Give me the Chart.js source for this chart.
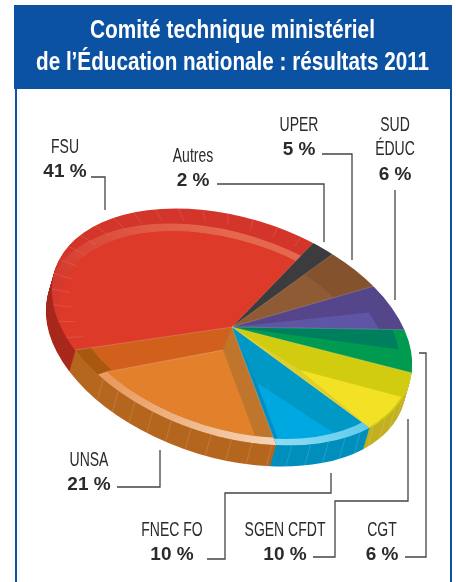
<!DOCTYPE html>
<html><head><meta charset="utf-8">
<style>html,body{margin:0;padding:0;background:#fff}canvas{display:block}</style>
<script src="https://cdn.jsdelivr.net/npm/chart.js@4"></script>
</head><body><canvas id="c" width="456" height="582"></canvas>
<script>
const categories = ['FSU','Autres','UPER','SUD ÉDUC','CGT','SGEN CFDT','FNEC FO','UNSA'];
const values = [41,2,5,6,6,10,10,21];
const faceColors = ['#d3352a','#3c3c3e','#85522e','#55458a','#009a50','#d2cc10','#0098c4','#bf762c'];
const wallColors = ['#a8281c','#333335','#6f4325','#463a75','#00803f','#c2b020','#008fbd','#b5661f'];
const titleLines = ['Comité technique ministériel',"de l’Éducation nationale : résultats 2011"];
const titleWidths = [285,393];

// Oblique view of the pie: unit circle -> screen
const apex = [232,327], axisA = [-157,23], axisB = [-88.4,-116.3], depth = [-6,21];
const mapUV = (u,v,o=[0,0]) => [apex[0]+u*axisA[0]+v*axisB[0]+o[0], apex[1]+u*axisA[1]+v*axisB[1]+o[1]];
const rad = d => d*Math.PI/180;

const callouts = [
  {lines:['FSU'],pct:'41 %',x:65,y:147,path:[[91,177],[105,177],[105,210]]},
  {lines:['Autres'],pct:'2 %',x:193,y:156,path:[[217,184],[324,184],[324,242]]},
  {lines:['UPER'],pct:'5 %',x:299,y:125,path:[[322,154],[352,154],[352,260]]},
  {lines:['SUD','ÉDUC'],pct:'6 %',x:395,y:125,path:[[395,190],[395,300]]},
  {lines:['UNSA'],pct:'21 %',x:89,y:460,path:[[117,487],[160,487],[160,450]]},
  {lines:['FNEC FO'],pct:'10 %',x:172,y:530,path:[[207,559],[225,559],[225,493],[331,493],[331,473]]},
  {lines:['SGEN CFDT'],pct:'10 %',x:285,y:530,path:[[313,557],[335,557],[335,501],[408,501],[408,419]]},
  {lines:['CGT'],pct:'6 %',x:382,y:530,path:[[405,557],[426,557],[426,353],[419,353]]}
];

function toPie(ctx,arc){
  const R=arc.outerRadius;
  ctx.translate(apex[0],apex[1]);
  ctx.transform(axisA[0]/R,axisA[1]/R,axisB[0]/R,axisB[1]/R,0,0);
  ctx.translate(-arc.x,-arc.y);
}
function toUnit(ctx){
  ctx.translate(apex[0],apex[1]);
  ctx.transform(axisA[0],axisA[1],axisB[0],axisB[1],0,0);
}
function layer(ctx,arc,o){
  const s=arc.startAngle+rad(o.a0||0), e=arc.endAngle+rad(o.a1||0);
  const sh=o.shift||[0,0], c=o.c||[0,0], r=o.r||1;
  ctx.save();
  toUnit(ctx);
  ctx.beginPath();ctx.moveTo(0,0);ctx.arc(0,0,1,arc.startAngle,arc.endAngle);ctx.closePath();ctx.clip();
  ctx.beginPath();ctx.moveTo(sh[0],sh[1]);ctx.arc(sh[0],sh[1],4,s,e);ctx.closePath();ctx.clip();
  let fill=o.fill;
  if(o.grad){
    fill=ctx.createLinearGradient(o.grad[0],o.grad[1],o.grad[2],o.grad[3]);
    fill.addColorStop(0,o.grad[4]);fill.addColorStop(1,o.grad[5]);
  }
  ctx.fillStyle=fill;
  ctx.beginPath();
  ctx.arc(c[0],c[1],r,0,Math.PI*2);
  if(o.r0){ctx.moveTo(c[0]+o.r0,c[1]);ctx.arc(c[0],c[1],o.r0,0,Math.PI*2);}
  ctx.fill('evenodd');
  ctx.restore();
}
function wire(ctx,p,q,alpha){
  ctx.strokeStyle='rgba(255,255,255,'+alpha+')';ctx.lineWidth=.7;
  ctx.beginPath();ctx.moveTo(p[0],p[1]);ctx.lineTo(q[0],q[1]);ctx.stroke();
}
function squeezed(ctx,text,x,y,sx){
  ctx.save();ctx.translate(x,y);ctx.scale(sx,1);ctx.fillText(text,0,0);ctx.restore();
}

const pie3d = {
  id:'pie3d',
  beforeDraw(chart){
    const ctx=chart.ctx;
    ctx.save();
    ctx.fillStyle='#fff';ctx.fillRect(0,0,456,582);
    ctx.fillStyle='#0c52a2';
    ctx.fillRect(14,5,438,84);
    ctx.fillRect(15,89,2,493);
    ctx.fillRect(450,89,2,493);
    ctx.fillStyle='#fff';ctx.textAlign='center';ctx.textBaseline='middle';
    ctx.font='bold 25px "Liberation Sans"';
    titleLines.forEach((t,k)=>squeezed(ctx,t,232.5,31+k*32,titleWidths[k]/ctx.measureText(t).width));
    ctx.restore();
  },
  beforeDatasetsDraw(chart){
    const ctx=chart.ctx, arcs=chart.getDatasetMeta(0).data;
    ctx.save();
    toPie(ctx,arcs[0]);
    // side wall: the slices repeated along the depth vector, through the arc elements
    const R=arcs[0].outerRadius, inv=(axisA[0]*axisB[1]-axisA[1]*axisB[0]);
    const du=(depth[0]*axisB[1]-depth[1]*axisB[0])/inv*R, dv=(axisA[0]*depth[1]-axisA[1]*depth[0])/inv*R;
    for(let t=22;t>=1;t--){
      ctx.save();
      ctx.translate(du*t/22,dv*t/22);
      arcs.forEach((arc,i)=>{
        const keep=arc.options;
        arc.options=Object.assign({},keep,{backgroundColor:wallColors[i],borderWidth:0});
        arc.draw(ctx);
        arc.options=keep;
      });
      ctx.restore();
    }
    ctx.restore();
    // wall stripes
    ctx.save();
    for(let d=150;d<=350;d+=6.5){
      const u=Math.cos(rad(d)),v=Math.sin(rad(d));
      const p=mapUV(u,v), q=mapUV(u,v,depth);
      if(q[1]>p[1]) wire(ctx,p,q,.2);
    }
    ctx.restore();
    ctx.save();
    toPie(ctx,arcs[0]);
  },
  afterDatasetsDraw(chart){
    const ctx=chart.ctx, arcs=chart.getDatasetMeta(0).data;
    ctx.restore();
    const [fsu,autres,uper,sud,cgt,sgen,fnec,unsa]=arcs;
    // FSU
    layer(ctx,fsu,{c:[.1,-.1],r:.99,r0:.925,grad:[.75,.5,-.35,.85,'rgba(232,110,84,.08)','#e5674d']});
    layer(ctx,fsu,{c:[.1,-.1],r:.925,fill:'#dd3a2a'});
    // UPER, SUD
    layer(ctx,uper,{r:.72,fill:'#8f5b34'});
    layer(ctx,sud,{a0:11.8,r:.85,fill:'#5e56a4'});
    // CGT
    layer(ctx,cgt,{a1:-11,r:.93,fill:'#007f5f'});
    // SGEN
    layer(ctx,sgen,{a0:30,fill:'#dfcf2c'});
    layer(ctx,sgen,{shift:[-.202,-.41],a0:1,a1:4.7,r:.99,fill:'#f3e125'});
    // FNEC
    layer(ctx,fnec,{a0:32.8,fill:'#008ec2'});
    layer(ctx,fnec,{shift:[.1,-.46],a0:-4.5,r:.95,fill:'#00a8e2'});
    layer(ctx,fnec,{r:1,r0:.945,grad:[-.4,-.9,.25,-.96,'#5cc8e8','#8fdcf5']});
    // UNSA
    layer(ctx,unsa,{a0:27,fill:'#d0601c'});
    layer(ctx,unsa,{shift:[.152,-.168],a1:-3,r:.935,fill:'#e2802c'});
    layer(ctx,unsa,{a1:-12.5,r:1,r0:.935,grad:[.9,-.25,.25,-.96,'#e99a5e','#f5d6b8']});
    layer(ctx,unsa,{a0:62.4,r:1,r0:.9,fill:'#a8580f'});
    // wireframe details
    ctx.save();
    for(let d=6;d<146;d+=8){
      const u=Math.cos(rad(d)),v=Math.sin(rad(d));
      wire(ctx,mapUV(u,v),mapUV(u*.9,v*.9),.16);
    }
    [fsu,autres,uper,sud,cgt,sgen,fnec,unsa].forEach(a=>{
      wire(ctx,mapUV(0,0),mapUV(Math.cos(a.startAngle),Math.sin(a.startAngle)),.25);
    });
    wire(ctx,mapUV(.152,-.168),mapUV(.912,-.206),.3);
    ctx.restore();
    // call-outs
    ctx.save();
    ctx.textAlign='center';ctx.textBaseline='middle';
    callouts.forEach(c=>{
      ctx.fillStyle='#2b2a2c';
      ctx.font='20px "Liberation Sans"';
      c.lines.forEach((t,k)=>squeezed(ctx,t,c.x,c.y+k*24.5,.7));
      ctx.font='bold 19px "Liberation Sans"';
      ctx.fillText(c.pct,c.x,c.y+c.lines.length*24.5+.5);
      ctx.strokeStyle='#444';ctx.lineWidth=1.3;
      ctx.beginPath();
      c.path.forEach((p,k)=>k?ctx.lineTo(p[0],p[1]):ctx.moveTo(p[0],p[1]));
      ctx.stroke();
    });
    ctx.restore();
  }
};

new Chart(document.getElementById('c'),{
  type:'pie',
  data:{labels:categories,datasets:[{data:values,backgroundColor:faceColors,borderWidth:0}]},
  options:{
    responsive:false,animation:false,rotation:90,
    layout:{padding:{top:100,left:30,right:30,bottom:60}},
    plugins:{legend:{display:false},tooltip:{enabled:false},title:{display:false}}
  },
  plugins:[pie3d]
});
</script></body></html>
